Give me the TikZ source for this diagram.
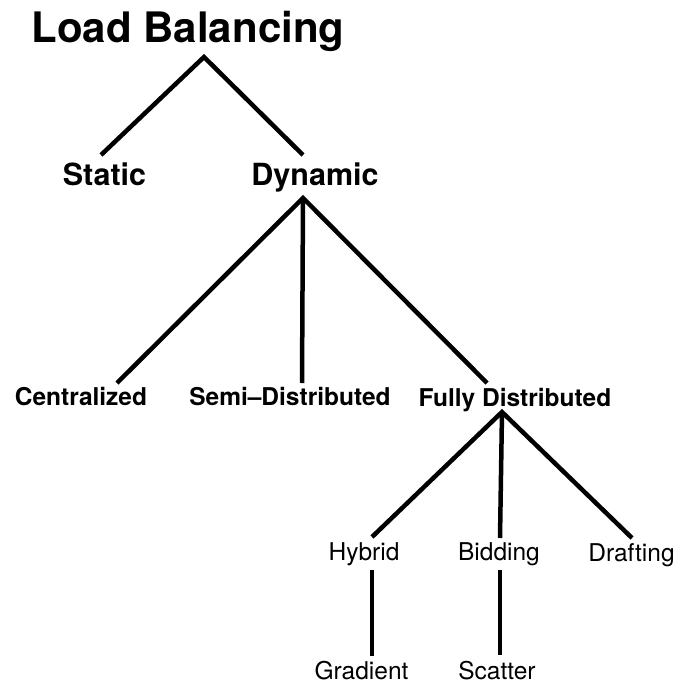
\documentclass[tikz,border=0pt]{standalone}
\usepackage{fontspec}
\setmainfont{TeX Gyre Heros}
\begin{document}
\begin{tikzpicture}[x=1pt,y=-1pt,
  lvlone/.style={font=\fontsize{42}{42}\selectfont\bfseries,anchor=base,inner sep=0pt},
  lvltwo/.style={font=\fontsize{30.5}{30.5}\selectfont\bfseries,anchor=base,inner sep=0pt},
  lvlthree/.style={font=\fontsize{24.5}{24.5}\selectfont\bfseries,anchor=base,inner sep=0pt},
  lvlfour/.style={font=\fontsize{24.5}{24.5}\selectfont,anchor=base,inner sep=0pt},
  branch/.style={line width=4.5pt,line join=miter,line cap=butt}]
\useasboundingbox (0,0) rectangle (677,683);

% labels
\node[lvlone]   (lb)   at (188,42)    {Load Balancing};
\node[lvltwo]   (stat) at (104.5,185) {Static};
\node[lvltwo]   (dyn)  at (315,185)   {Dynamic};
\node[lvlthree] (cen)  at (81,405)    {Centralized};
\node[lvlthree] (semi) at (290,405)   {Semi--Distributed};
\node[lvlthree] (full) at (515,406)   {Fully Distributed};
\node[lvlfour]  (hyb)  at (364,560)   {Hybrid};
\node[lvlfour]  (bid)  at (499,560)   {Bidding};
\node[lvlfour]  (dra)  at (631.5,561) {Drafting};
\node[lvlfour]  (gra)  at (361.5,679) {Gradient};
\node[lvlfour]  (sca)  at (497,679)   {Scatter};

% Load Balancing -> Static / Dynamic
\draw[branch] ([xshift=-3.5pt,yshift=30pt]stat.base)
  -- ([xshift=16pt,yshift=-15pt]lb.base)
  -- ([xshift=-12pt,yshift=30pt]dyn.base);

% Dynamic -> three strategies
\draw[branch] ([xshift=36pt,yshift=22pt]cen.base)
  -- ([xshift=-12pt,yshift=-13pt]dyn.base)
  -- ([xshift=-28pt,yshift=23pt]full.base);
\draw[branch] ([xshift=-12pt,yshift=-13pt]dyn.base)
  -- ([xshift=12pt,yshift=22pt]semi.base);

% Fully Distributed -> Hybrid / Bidding / Drafting
\draw[branch] ([xshift=8pt,yshift=23pt]hyb.base)
  -- ([xshift=-13pt,yshift=-6pt]full.base)
  -- ([xshift=0.5pt,yshift=23pt]dra.base);
\draw[branch] ([xshift=-13pt,yshift=-6pt]full.base)
  -- ([xshift=1pt,yshift=22pt]bid.base);

% Hybrid -> Gradient, Bidding -> Scatter
\draw[branch] ([xshift=8pt,yshift=-10pt]hyb.base)
  -- ([xshift=10.5pt,yshift=23pt]gra.base);
\draw[branch] ([xshift=1pt,yshift=-10pt]bid.base)
  -- ([xshift=3pt,yshift=24pt]sca.base);
\end{tikzpicture}
\end{document}
